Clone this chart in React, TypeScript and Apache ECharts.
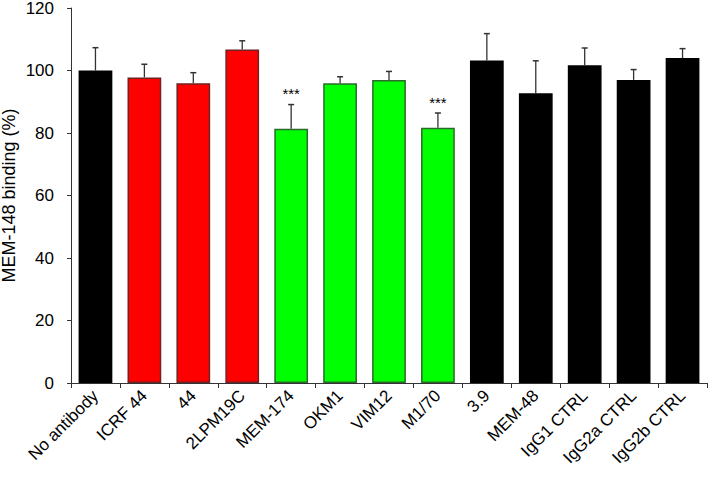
import React, { useEffect, useRef } from "react";
import * as echarts from "echarts";

const categories = ["No antibody", "ICRF 44", "44", "2LPM19C", "MEM-174", "OKM1", "VIM12", "M1/70", "3.9", "MEM-48", "IgG1 CTRL", "IgG2a CTRL", "IgG2b CTRL"];
const values = [100, 97.8, 95.9, 106.7, 81.4, 95.9, 97.0, 81.7, 103.2, 92.7, 101.7, 97.0, 104.0];
const errors = [7.3, 4.2, 3.4, 2.8, 7.7, 2.1, 2.7, 4.7, 8.6, 10.4, 5.5, 3.3, 3.0];
const groups = ["ctrl", "red", "red", "red", "green", "green", "green", "green", "ctrl", "ctrl", "ctrl", "ctrl", "ctrl"];
const significance = ["", "", "", "", "***", "", "", "***", "", "", "", "", ""];
const yTicks = [0, 20, 40, 60, 80, 100, 120];

const groupColors: Record<string, string> = { ctrl: "#000000", red: "#ff0000", green: "#00ff00" };
const groupBorders: Record<string, string> = { ctrl: "#000000", red: "#6e2222", green: "#2b6a2b" };
const FONT = "Liberation Sans, Arial, sans-serif";

export default function App() {
  const ref = useRef<HTMLDivElement>(null);
  useEffect(() => {
    if (!ref.current) return;
    const chart = echarts.init(ref.current, undefined, { renderer: "svg" });
    chart.setOption({
      animation: false,
      grid: { left: 71, right: 1, top: 8, bottom: 95, containLabel: false, outerBoundsMode: "none" },
      xAxis: {
        type: "category",
        data: categories,
        axisLine: { lineStyle: { color: "#333", width: 1 } },
        axisTick: { show: true, length: 5, alignWithLabel: false, lineStyle: { color: "#333" } },
        axisLabel: { rotate: 45, fontSize: 17, color: "#000", fontFamily: FONT, interval: 0, margin: 10 },
      },
      yAxis: {
        type: "value",
        min: yTicks[0],
        max: yTicks[yTicks.length - 1],
        interval: 20,
        name: "MEM-148 binding (%)",
        nameLocation: "middle",
        nameGap: 53,
        nameMoveOverlap: false,
        nameTextStyle: { fontSize: 18, color: "#000", fontFamily: FONT },
        splitLine: { show: false },
        axisLine: { show: true, lineStyle: { color: "#333", width: 1 } },
        axisTick: { show: true, length: 4, lineStyle: { color: "#333" } },
        axisLabel: { fontSize: 17, color: "#000", fontFamily: FONT, margin: 17 },
      },
      series: [
        {
          type: "bar",
          data: values.map((v, i) => ({
            value: v,
            itemStyle: { color: groupColors[groups[i]], borderColor: groupBorders[groups[i]], borderWidth: 1.5 },
          })),
          barCategoryGap: "31%",
        },
        {
          type: "custom",
          data: values.map((v, i) => [i, v, v + errors[i]]),
          renderItem: (params: any, api: any) => {
            const x = api.value(0);
            const base = api.coord([x, api.value(1)]);
            const top = api.coord([x, api.value(2)]);
            const label = significance[params.dataIndex];
            const children: any[] = [
              { type: "line", shape: { x1: base[0], y1: base[1], x2: top[0], y2: top[1] }, style: { stroke: "#333", lineWidth: 1.3 } },
              { type: "line", shape: { x1: top[0] - 3, y1: top[1], x2: top[0] + 3, y2: top[1] }, style: { stroke: "#333", lineWidth: 1.5 } },
            ];
            if (label) {
              children.push({
                type: "text",
                style: { text: label, x: top[0], y: top[1] - 11, align: "center", verticalAlign: "middle", fontSize: 15, fill: "#000", fontFamily: FONT },
              });
            }
            return { type: "group", children };
          },
          z: 5,
        },
      ],
    });
    return () => chart.dispose();
  }, []);
  return <div ref={ref} style={{ width: 708, height: 478, position: "absolute", left: 0, top: 0 }} />;
}
